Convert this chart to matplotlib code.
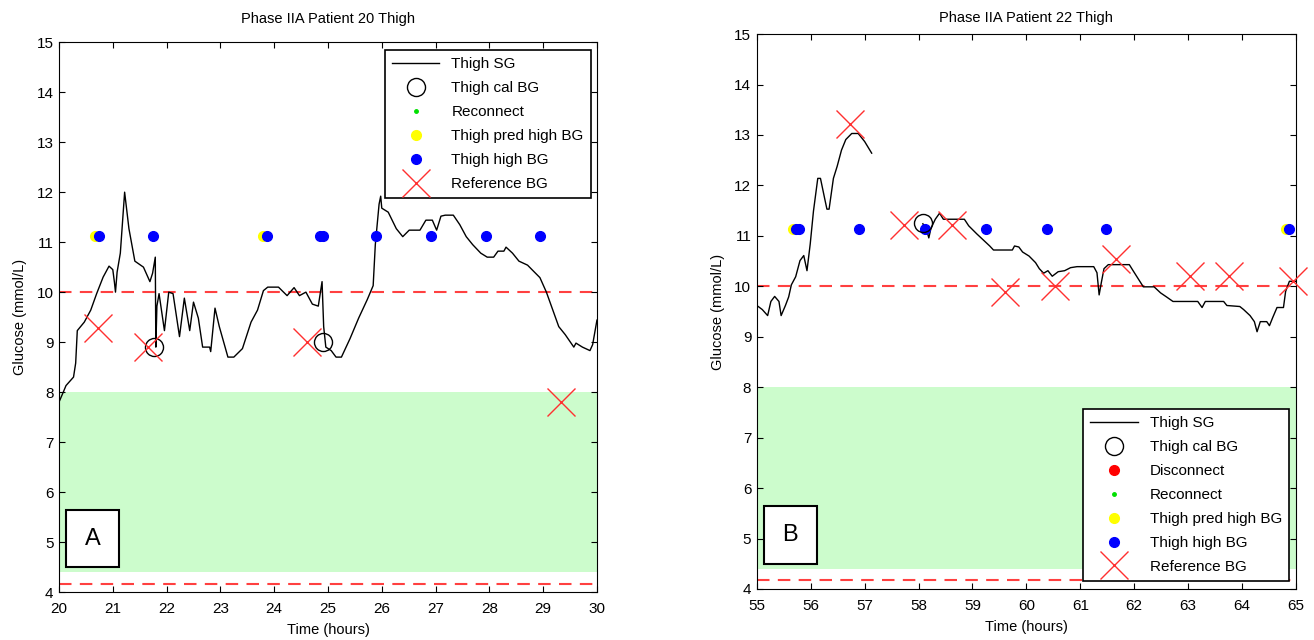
import numpy as np
import matplotlib.pyplot as plt
from matplotlib.lines import Line2D
from matplotlib.patches import Rectangle

plt.rcParams['font.family'] = ['Liberation Sans', 'DejaVu Sans']
plt.rcParams['font.size'] = 10

# ---- panel A : patient 20 ----
a_t = [20.0, 20.08, 20.13, 20.27, 20.31, 20.34, 20.47, 20.59, 20.7, 20.82, 20.93, 21.0, 21.03, 21.05,
       21.08, 21.14, 21.22, 21.3, 21.41, 21.57, 21.69, 21.74, 21.79, 21.8, 21.82, 21.86, 21.96, 22.04,
       22.12, 22.24, 22.33, 22.43, 22.5, 22.59, 22.67, 22.8, 22.82, 22.9, 22.98, 23.14, 23.25, 23.41,
       23.57, 23.69, 23.8, 23.88, 24.08, 24.24, 24.37, 24.47, 24.59, 24.71, 24.82, 24.89, 24.92, 24.96,
       25.06, 25.15, 25.25, 25.41, 25.57, 25.73, 25.84, 25.88, 25.95, 25.98, 26.0, 26.12, 26.27, 26.39,
       26.51, 26.71, 26.82, 26.94, 27.02, 27.1, 27.18, 27.33, 27.45, 27.57, 27.69, 27.84, 27.96, 28.08,
       28.16, 28.27, 28.31, 28.43, 28.55, 28.71, 28.82, 28.94, 29.06, 29.18, 29.29, 29.41, 29.57, 29.61,
       29.73, 29.87, 29.92, 30.0]
a_sg = [7.8, 8.0, 8.13, 8.3, 8.58, 9.23, 9.4, 9.64, 9.97, 10.3, 10.52, 10.45, 10.2, 10.0,
        10.4, 10.78, 12.0, 11.27, 10.62, 10.5, 10.21, 10.38, 10.7, 8.9, 9.72, 9.97, 9.23, 10.0,
        9.97, 9.11, 9.88, 9.23, 9.8, 9.48, 8.9, 8.9, 8.81, 9.68, 9.31, 8.7, 8.7, 8.87,
        9.4, 9.64, 10.03, 10.1, 10.1, 9.93, 10.09, 9.93, 10.0, 9.76, 9.72, 10.21, 9.31, 8.9,
        8.83, 8.7, 8.7, 9.07, 9.48, 9.85, 10.13, 10.95, 11.76, 11.92, 11.68, 11.6, 11.27, 11.11,
        11.24, 11.24, 11.44, 11.44, 11.24, 11.52, 11.54, 11.54, 11.35, 11.11, 10.95, 10.78, 10.7, 10.7,
        10.82, 10.82, 10.9, 10.78, 10.62, 10.54, 10.42, 10.29, 10.0, 9.64, 9.31, 9.15, 8.9, 8.98,
        8.9, 8.83, 8.95, 9.44]
a_cal_t = [21.77, 24.9]
a_cal_bg = [8.9, 9.0]
a_pred_t = [20.67, 23.79]
a_high_t = [20.75, 21.75, 23.87, 24.86, 24.9, 25.9, 26.91, 27.94, 28.94]
a_ref_t = [20.72, 21.66, 24.61, 29.33]
a_ref_bg = [9.29, 8.9, 9.0, 7.8]

# ---- panel B : patient 22 ----
b_t1 = [55.0, 55.1, 55.2, 55.26, 55.33, 55.41, 55.45, 55.53, 55.59, 55.64, 55.72, 55.8, 55.87, 55.93,
        55.99, 56.05, 56.13, 56.18, 56.26, 56.3, 56.34, 56.42, 56.49, 56.57, 56.65, 56.76, 56.88, 57.0,
        57.13]
b_sg1 = [9.62, 9.54, 9.42, 9.7, 9.8, 9.7, 9.42, 9.62, 9.79, 10.03, 10.19, 10.51, 10.61, 10.31,
         10.84, 11.49, 12.14, 12.14, 11.73, 11.53, 11.53, 12.14, 12.38, 12.7, 12.91, 13.03, 13.03, 12.87,
         12.64]
b_t2 = [58.08, 58.16, 58.19, 58.23, 58.31, 58.39, 58.46, 58.54, 58.85, 58.93, 59.08, 59.2, 59.32, 59.39,
        59.74, 59.78, 59.86, 59.93, 60.05, 60.17, 60.24, 60.32, 60.4, 60.48, 60.59, 60.71, 60.82, 60.94,
        61.25, 61.31, 61.35, 61.39, 61.44, 61.52, 61.91, 61.98, 62.17, 62.37, 62.49, 62.6, 62.72, 62.87,
        63.18, 63.26, 63.32, 63.66, 63.72, 63.96, 64.03, 64.15, 64.23, 64.28, 64.34, 64.46, 64.51, 64.57,
        64.65, 64.77, 64.81, 64.88, 65.0]
b_sg2 = [11.24, 11.08, 10.96, 11.15, 11.33, 11.45, 11.33, 11.33, 11.33, 11.2, 11.04, 10.92, 10.8, 10.72,
         10.72, 10.8, 10.78, 10.68, 10.6, 10.47, 10.35, 10.26, 10.31, 10.2, 10.29, 10.31, 10.37, 10.39,
         10.39, 10.27, 9.83, 10.07, 10.35, 10.43, 10.43, 10.31, 9.99, 9.99, 9.87, 9.79, 9.7, 9.7,
         9.7, 9.58, 9.7, 9.7, 9.62, 9.6, 9.54, 9.42, 9.3, 9.1, 9.3, 9.3, 9.22, 9.38,
         9.58, 9.58, 9.9, 10.1, 10.1]
b_cal_t = [58.08]
b_cal_bg = [11.25]
b_pred_t = [55.67, 64.81]
b_high_t = [55.73, 55.78, 56.89, 58.12, 59.26, 60.38, 61.48, 64.88]
b_ref_t = [56.72, 57.73, 58.62, 59.61, 60.54, 61.67, 63.04, 63.76, 64.95]
b_ref_bg = [13.22, 11.22, 11.22, 9.89, 10.0, 10.54, 10.21, 10.21, 10.1]

flag_level = 11.13
upper_lim = 10.0
lower_lim = 4.17
band = (4.4, 8.0)

fig = plt.figure(figsize=(13.14, 6.4), dpi=100)
axA = fig.add_axes([0.0449, 0.075, 0.4094, 0.859])
axB = fig.add_axes([0.576, 0.0797, 0.4102, 0.867])

ms_dot = 7
def panel(ax, t0, segs, cal_t, cal_bg, pred_t, high_t, ref_t, ref_bg, title, letter, disc):
    ax.axhspan(band[0], band[1], color='#ccfccc', lw=0, zorder=0)
    ax.axhline(upper_lim, color='#ff4040', ls=(0, (6, 4)), lw=1.5, zorder=1)
    ax.axhline(lower_lim, color='#ff4040', ls=(0, (6, 4)), lw=1.5, zorder=1)
    for st, sv in segs:
        ax.plot(st, sv, color='black', lw=1.0, zorder=3)
    ax.plot(pred_t, [flag_level] * len(pred_t), 'o', color='yellow', ms=ms_dot, mec='yellow', zorder=4)
    ax.plot(high_t, [flag_level] * len(high_t), 'o', color='blue', ms=ms_dot, mec='blue', zorder=5)
    ax.plot(cal_t, cal_bg, 'o', mfc='none', mec='black', ms=13, mew=1.0, zorder=6)
    ax.plot(ref_t, ref_bg, 'x', color='#ff3030', ms=20, mew=1.0, zorder=7, clip_on=False)
    ax.set_xlim(t0, t0 + 10)
    ax.set_ylim(4, 15)
    ax.set_xticks(np.arange(t0, t0 + 11, 1))
    ax.set_yticks(np.arange(4, 16, 1))
    ax.tick_params(direction='in', top=True, right=True, length=4, labelsize=11)
    ax.tick_params(axis='x', pad=7)
    ax.tick_params(axis='y', pad=4)
    ax.set_xlabel('Time (hours)', fontsize=10.5, labelpad=5)
    ax.set_ylabel('Glucose (mmol/L)', fontsize=10.5, labelpad=7)
    ax.set_title(title, fontsize=10.5, pad=14 if letter == 'A' else 9)

    handles = [Line2D([], [], color='black', lw=1.0),
               Line2D([], [], marker='o', ls='none', mfc='none', mec='black', ms=13)]
    labels = ['Thigh SG', 'Thigh cal BG']
    if disc:
        handles.append(Line2D([], [], marker='o', ls='none', color='red', ms=ms_dot))
        labels.append('Disconnect')
    handles += [Line2D([], [], marker='o', ls='none', color='#00e000', ms=2.5),
                Line2D([], [], marker='o', ls='none', color='yellow', ms=ms_dot),
                Line2D([], [], marker='o', ls='none', color='blue', ms=ms_dot),
                Line2D([], [], marker='x', ls='none', color='#ff3030', ms=20, mew=1.0)]
    labels += ['Reconnect', 'Thigh pred high BG', 'Thigh high BG', 'Reference BG']
    kw = dict(fontsize=11, labelspacing=0.65, handlelength=3.1, handletextpad=0.8,
              borderpad=0.45, borderaxespad=0, framealpha=1, fancybox=False)
    if letter == 'A':
        leg = ax.legend(handles, labels, loc='upper left', bbox_to_anchor=(0.606, 0.985), **kw)
    else:
        leg = ax.legend(handles, labels, loc='lower left', bbox_to_anchor=(0.606, 0.015), **kw)
    leg.set_zorder(10)
    f = leg.get_frame()
    f.set_edgecolor('black'); f.set_linewidth(1.2)

    ax.add_patch(Rectangle((0.013, 0.045), 0.098, 0.104, transform=ax.transAxes,
                           facecolor='white', edgecolor='black', lw=1.5, zorder=8))
    ax.text(0.062, 0.097, letter, transform=ax.transAxes, ha='center', va='center',
            fontsize=17, zorder=9)

panel(axA, 20, [(a_t, a_sg)], a_cal_t, a_cal_bg, a_pred_t, a_high_t, a_ref_t, a_ref_bg,
      'Phase IIA Patient 20 Thigh', 'A', False)
panel(axB, 55, [(b_t1, b_sg1), (b_t2, b_sg2)], b_cal_t, b_cal_bg, b_pred_t, b_high_t, b_ref_t, b_ref_bg,
      'Phase IIA Patient 22 Thigh', 'B', True)

fig.savefig('out.png', dpi=100)
